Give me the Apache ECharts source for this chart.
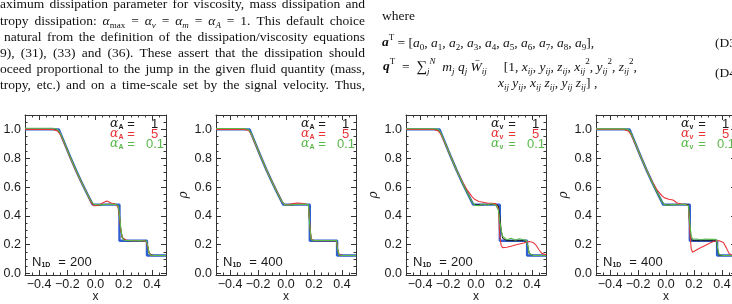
<!DOCTYPE html>
<html><head><meta charset="utf-8">
<script src="https://cdn.jsdelivr.net/npm/echarts@6/dist/echarts.min.js"></script>
<style>html,body{margin:0;padding:0;background:#fff}#c{width:732px;height:304px}</style>
</head><body><div id="c"></div>
<script>
// ---- data ----
const xMajor = [-0.4, -0.2, 0.0, 0.2, 0.4];
const xMinor = [-0.45, -0.35, -0.3, -0.25, -0.15, -0.1, -0.05, 0.05, 0.1, 0.15, 0.25, 0.3, 0.35, 0.45];
const yMajor = [0.0, 0.2, 0.4, 0.6, 0.8, 1.0];
const yMinor = [0.05, 0.1, 0.15, 0.25, 0.3, 0.35, 0.45, 0.5, 0.55, 0.65, 0.7, 0.75, 0.85, 0.9, 0.95, 1.05];

const xExact = [-0.5, -0.26, -0.22, -0.18, -0.14, -0.1, -0.06, -0.02, 0.17, 0.17, 0.365, 0.365, 0.5];
const rhoExact = [1.0, 1.0, 0.905, 0.81, 0.72, 0.635, 0.555, 0.478, 0.478, 0.228, 0.228, 0.125, 0.125];

const xSim = [-0.5, -0.3, -0.27, -0.25, -0.22, -0.18, -0.14, -0.1, -0.06, -0.03, -0.01, 0.02, 0.05, 0.08, 0.11, 0.14, 0.16, 0.17, 0.18, 0.19, 0.2, 0.22, 0.25, 0.28, 0.31, 0.34, 0.36, 0.37, 0.38, 0.39, 0.41, 0.43, 0.45, 0.47, 0.5];

const p1Black = [1.0,1.0,0.995,0.972,0.905,0.81,0.72,0.635,0.555,0.5,0.478,0.476,0.478,0.48,0.48,0.48,0.47,0.40,0.30,0.245,0.232,0.228,0.228,0.228,0.228,0.228,0.225,0.19,0.14,0.128,0.125,0.125,0.125,0.125,0.125];
const p1Red = [1.0,1.0,0.99,0.965,0.9,0.805,0.715,0.632,0.555,0.49,0.47,0.472,0.49,0.503,0.49,0.482,0.46,0.39,0.3,0.25,0.238,0.23,0.228,0.229,0.228,0.227,0.22,0.185,0.145,0.13,0.126,0.125,0.125,0.125,0.125];
const p1Green = [1.008,1.008,1.0,0.975,0.905,0.81,0.72,0.635,0.555,0.5,0.48,0.477,0.478,0.479,0.48,0.48,0.472,0.41,0.31,0.25,0.233,0.229,0.229,0.228,0.229,0.228,0.226,0.195,0.142,0.128,0.125,0.125,0.125,0.125,0.125];

const p2Black = [1.0,1.0,0.998,0.975,0.905,0.81,0.72,0.635,0.555,0.5,0.478,0.477,0.478,0.479,0.48,0.48,0.478,0.33,0.235,0.229,0.228,0.228,0.228,0.228,0.228,0.228,0.228,0.16,0.127,0.125,0.125,0.125,0.125,0.125,0.125];
const p2Red = [1.0,1.0,0.995,0.97,0.9,0.81,0.72,0.637,0.56,0.5,0.48,0.478,0.485,0.49,0.488,0.483,0.475,0.34,0.24,0.23,0.228,0.228,0.229,0.228,0.228,0.228,0.226,0.165,0.13,0.125,0.125,0.125,0.125,0.125,0.125];
const p2Green = [1.006,1.006,1.0,0.975,0.905,0.81,0.72,0.635,0.555,0.5,0.478,0.476,0.478,0.479,0.48,0.48,0.478,0.33,0.235,0.23,0.229,0.229,0.229,0.229,0.229,0.229,0.229,0.16,0.127,0.125,0.125,0.125,0.125,0.125,0.125];

const p3Black = [1.0,1.0,0.995,0.972,0.905,0.81,0.72,0.635,0.555,0.5,0.478,0.476,0.478,0.48,0.48,0.48,0.47,0.40,0.30,0.245,0.232,0.228,0.228,0.228,0.228,0.228,0.225,0.19,0.14,0.128,0.125,0.125,0.125,0.125,0.125];
const p3Red = [1.0,1.0,0.99,0.965,0.9,0.81,0.72,0.64,0.575,0.535,0.515,0.5,0.495,0.49,0.488,0.485,0.45,0.26,0.195,0.18,0.178,0.182,0.19,0.198,0.205,0.212,0.218,0.22,0.222,0.222,0.215,0.195,0.165,0.14,0.13];
const p3Green = [1.005,1.005,1.0,0.975,0.905,0.81,0.72,0.635,0.555,0.5,0.475,0.47,0.482,0.475,0.485,0.475,0.44,0.36,0.3,0.26,0.25,0.235,0.245,0.232,0.242,0.235,0.23,0.19,0.14,0.128,0.125,0.125,0.125,0.125,0.125];

const p4Black = [1.0,1.0,0.998,0.975,0.905,0.81,0.72,0.635,0.555,0.5,0.478,0.477,0.478,0.479,0.48,0.48,0.478,0.33,0.235,0.229,0.228,0.228,0.228,0.228,0.228,0.228,0.228,0.16,0.127,0.125,0.125,0.125,0.125,0.125,0.125];
const p4Red = [1.0,1.0,0.99,0.965,0.9,0.81,0.72,0.64,0.575,0.54,0.525,0.515,0.51,0.49,0.482,0.48,0.47,0.3,0.17,0.148,0.15,0.165,0.18,0.195,0.21,0.222,0.228,0.23,0.228,0.225,0.215,0.18,0.14,0.128,0.125];
const p4Green = [1.004,1.004,1.0,0.975,0.905,0.81,0.72,0.635,0.555,0.5,0.478,0.475,0.48,0.477,0.481,0.478,0.47,0.35,0.26,0.24,0.236,0.24,0.235,0.24,0.237,0.238,0.236,0.17,0.13,0.126,0.125,0.125,0.125,0.125,0.125];

const legendValues = ['1', '5', '0.1'];
const nLabels = ['200', '400', '200', '400'];
const alphaSubs = ['A', 'A', 'v', 'v'];

// ---- layout / style ----
const BLUE = '#2f5fd0', RED = '#e8353a', GREEN = '#5ab84a', BLACK = '#1a1a1a';
const AX = '#333333';
const panels = [
  {left: 25, width: 141, black: p1Black, red: p1Red, green: p1Green},
  {left: 216, width: 140, black: p2Black, red: p2Red, green: p2Green},
  {left: 406, width: 140, black: p3Black, red: p3Red, green: p3Green},
  {left: 596, width: 140, black: p4Black, red: p4Red, green: p4Green}
];
const TOP = 115, H = 160;
const YMIN = -0.01, YMAX = 1.1;
const fmt = v => v.toFixed(1).replace('-', '\u2212');
const pair = (xs, ys) => xs.map((x, i) => [x, ys[i]]);
const SANS = 'Liberation Sans';

const grid = [], xAxis = [], yAxis = [], series = [], graphics = [];
panels.forEach((p, i) => {
  grid.push({left: p.left, top: TOP, width: p.width, height: H, outerBoundsMode: 'none', containLabel: false});
  const xb = {gridIndex: i, type: 'value', min: -0.5, max: 0.5, splitLine: {show: false}};
  const line = {show: true, onZero: false, lineStyle: {color: AX, width: 1}};
  const noLine = {show: false, onZero: false};
  const tk = (vals, len) => ({show: true, inside: true, length: len, customValues: vals, lineStyle: {color: AX, width: 1}});
  xAxis.push(Object.assign({}, xb, {position: 'bottom', axisLine: line, axisTick: tk(xMajor, 5),
    axisLabel: {show: true, customValues: xMajor, formatter: fmt, margin: 3, hideOverlap: false,
      fontFamily: SANS, fontSize: 12.5, color: '#1a1a1a'},
    name: 'x', nameLocation: 'middle', nameGap: 16, nameMoveOverlap: false,
    nameTextStyle: {fontFamily: SANS, fontSize: 12, color: '#1a1a1a'}}));
  xAxis.push(Object.assign({}, xb, {position: 'bottom', axisLine: noLine, axisTick: tk(xMinor, 2.5), axisLabel: {show: false}}));
  xAxis.push(Object.assign({}, xb, {position: 'top', axisLine: line, axisTick: tk(xMajor, 5), axisLabel: {show: false}}));
  xAxis.push(Object.assign({}, xb, {position: 'top', axisLine: noLine, axisTick: tk(xMinor, 2.5), axisLabel: {show: false}}));

  const yb = {gridIndex: i, type: 'value', min: YMIN, max: YMAX, splitLine: {show: false}};
  yAxis.push(Object.assign({}, yb, {position: 'left', axisLine: line, axisTick: tk(yMajor, 5),
    axisLabel: {show: true, customValues: yMajor, formatter: fmt, margin: 4, hideOverlap: false,
      fontFamily: SANS, fontSize: 12.5, color: '#1a1a1a'},
    name: '\u03c1', nameLocation: 'middle', nameGap: 26, nameRotate: 90, nameMoveOverlap: false,
    nameTextStyle: {fontFamily: 'DejaVu Serif', fontStyle: 'italic', fontSize: 12, color: '#1a1a1a'}}));
  yAxis.push(Object.assign({}, yb, {position: 'left', axisLine: noLine, axisTick: tk(yMinor, 2.5), axisLabel: {show: false}}));
  yAxis.push(Object.assign({}, yb, {position: 'right', axisLine: line, axisTick: tk(yMajor, 5), axisLabel: {show: false}}));
  yAxis.push(Object.assign({}, yb, {position: 'right', axisLine: noLine, axisTick: tk(yMinor, 2.5), axisLabel: {show: false}}));

  const base = {type: 'line', xAxisIndex: 4 * i, yAxisIndex: 4 * i, showSymbol: false, symbol: 'none',
    silent: true, animation: false, clip: true};
  series.push(Object.assign({}, base, {name: 'exact', data: pair(xExact, rhoExact), z: 2,
    lineStyle: {color: BLUE, width: 2.4}}));
  series.push(Object.assign({}, base, {name: 'a1', data: pair(xSim, p.black), z: 3,
    lineStyle: {color: BLACK, width: 1}}));
  series.push(Object.assign({}, base, {name: 'a5', data: pair(xSim, p.red), z: 4,
    lineStyle: {color: RED, width: 1.1}}));
  series.push(Object.assign({}, base, {name: 'a01', data: pair(xSim, p.green), z: 5,
    lineStyle: {color: GREEN, width: 1.1}}));

  // in-panel legend
  const lx = p.left + 85;
  [BLACK, RED, GREEN].forEach((col, k) => {
    const y = 124 + k * 10;
    graphics.push({type: 'text', x: lx, y: y, z: 20, style: {
      text: '{g|\u03b1}{s|' + alphaSubs[i] + '}', fill: col, verticalAlign: 'middle',
      rich: {
        g: {fontFamily: 'DejaVu Serif', fontStyle: 'italic', fontSize: 12.5, fill: col, lineHeight: 13},
        s: {fontFamily: SANS, fontWeight: 'bold', fontSize: 7, fill: col, verticalAlign: 'bottom', lineHeight: 13}
      }}});
    graphics.push({type: 'text', x: lx + 21, y: y, z: 20, style: {text: '=', fill: col, fontFamily: SANS,
      fontSize: 13, align: 'center', verticalAlign: 'middle'}});
    graphics.push({type: 'text', x: lx + (legendValues[k].length > 1 ? 36 : 41), y: y, z: 20, style: {text: legendValues[k], fill: col, fontFamily: SANS,
      fontSize: 13, align: 'left', verticalAlign: 'middle'}});
  });
  graphics.push({type: 'text', x: p.left + 7, y: 262, z: 20, style: {
    text: 'N{s|1D}', fill: '#1a1a1a', fontFamily: SANS, fontSize: 13, verticalAlign: 'middle',
    rich: {s: {fontFamily: SANS, fontSize: 7, fontWeight: 'bold', fill: '#1a1a1a', verticalAlign: 'bottom', lineHeight: 14}}}});
  graphics.push({type: 'text', x: p.left + 37, y: 262, z: 20, style: {text: '=', fill: '#1a1a1a', fontFamily: SANS,
    fontSize: 13, align: 'center', verticalAlign: 'middle'}});
  graphics.push({type: 'text', x: p.left + 45, y: 262, z: 20, style: {text: nLabels[i], fill: '#1a1a1a', fontFamily: SANS,
    fontSize: 13, align: 'left', verticalAlign: 'middle'}});
});

// ---- page text ----
const SERIF = 'Liberation Serif';
const richMath = {
  i: {fontFamily: SERIF, fontStyle: 'italic', fontSize: 13.5, fill: '#111', lineHeight: 19},
  bi: {fontFamily: SERIF, fontStyle: 'italic', fontWeight: 'bold', fontSize: 13.5, fill: '#111', lineHeight: 19},
  sub: {fontFamily: SERIF, fontSize: 9, fill: '#111', verticalAlign: 'bottom', lineHeight: 19},
  isub: {fontFamily: SERIF, fontStyle: 'italic', fontSize: 9, fill: '#111', verticalAlign: 'bottom', lineHeight: 19},
  sup: {fontFamily: SERIF, fontSize: 9, fill: '#111', verticalAlign: 'top', lineHeight: 19},
  isup: {fontFamily: SERIF, fontStyle: 'italic', fontSize: 9, fill: '#111', verticalAlign: 'top', lineHeight: 19},
  big: {fontFamily: SERIF, fontSize: 15, fill: '#111', lineHeight: 19}
};
function textStyle(text) {
  return {text: text, fill: '#111', fontFamily: SERIF, fontSize: 13.5, lineHeight: 19, verticalAlign: 'middle', rich: richMath};
}
function addText(x, y, text) {
  graphics.push({type: 'text', x: x, y: y, z: 20, style: textStyle(text)});
}
function measure(text) {
  const t = new echarts.graphic.Text({style: textStyle(text)});
  return t.getBoundingRect().width;
}
function addJustified(x0, x1, y, line) {
  const words = line.split(' ').filter(w => w.length);
  const ws = words.map(measure);
  const total = ws.reduce((a, b) => a + b, 0);
  const gap = words.length > 1 ? (x1 - x0 - total) / (words.length - 1) : 0;
  let x = x0;
  words.forEach((w, k) => { addText(x, y, w); x += ws[k] + gap; });
}
const leftLines = [
  'aximum dissipation parameter for viscosity, mass dissipation and',
  'tropy dissipation: {i|\u03b1}{sub|max} = {i|\u03b1}{isub|v} = {i|\u03b1}{isub|m} = {i|\u03b1}{isub|A} = 1. This default choice',
  'natural from the definition of the dissipation/viscosity equations',
  '9), (31), (33) and (36). These assert that the dissipation should',
  'oceed proportional to the jump in the given fluid quantity (mass,',
  'tropy, etc.) and on a time-scale set by the signal velocity. Thus,'
];
const leftLineX = [0, 0, 4, 0, 0, 0];
const leftLineY = [4.5, 21, 37, 53, 69.5, 85.5];
leftLines.forEach((t, k) => addJustified(leftLineX[k], 365, leftLineY[k], t));

addText(382, 16, 'where');
addText(382, 43, '{bi|a}{sup|T} = [{i|a}{sub|0}, {i|a}{sub|1}, {i|a}{sub|2}, {i|a}{sub|3}, {i|a}{sub|4}, {i|a}{sub|5}, {i|a}{sub|6}, {i|a}{sub|7}, {i|a}{sub|8}, {i|a}{sub|9}],');
addText(715, 43, '(D3');
addText(383, 67, '{bi|q}{sup|T}  =  {big|\u2211}{isub|j}{isup|N}  {i|m}{isub|j} {i|q}{isub|j} {i|W\u0304}{isub|ij}     [1, {i|x}{isub|ij}, {i|y}{isub|ij}, {i|z}{isub|ij}, {i|x}{isub|ij}{sup|2}, {i|y}{isub|ij}{sup|2}, {i|z}{isub|ij}{sup|2},');
addText(498, 83, '{i|x}{isub|ij} {i|y}{isub|ij}, {i|x}{isub|ij} {i|z}{isub|ij}, {i|y}{isub|ij} {i|z}{isub|ij}] ,');
addText(715, 73, '(D4');

const chart = echarts.init(document.getElementById('c'), null, {renderer: 'canvas'});
chart.setOption({
  animation: false,
  backgroundColor: '#fff',
  grid: grid, xAxis: xAxis, yAxis: yAxis, series: series,
  graphic: {elements: graphics}
});
</script></body></html>
